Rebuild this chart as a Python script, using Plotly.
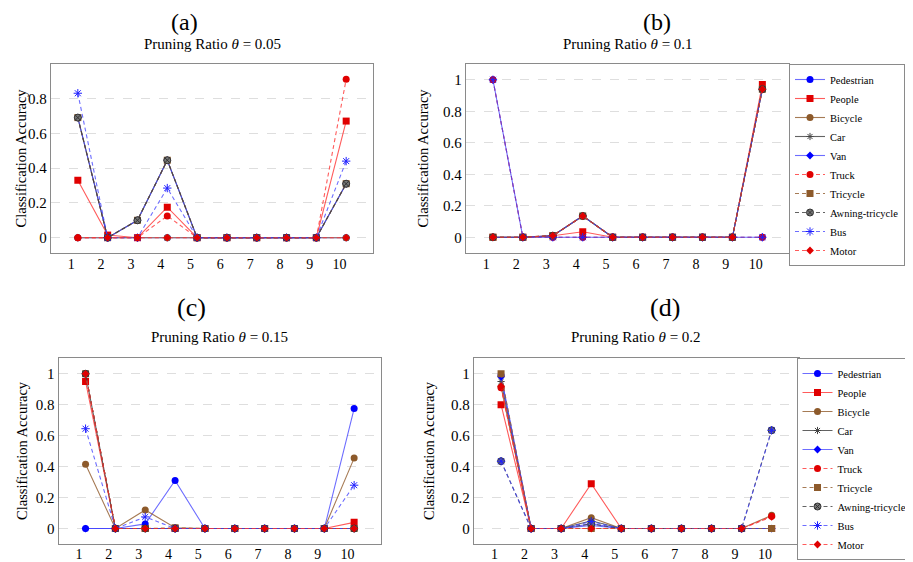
#Pruning ratio vs classification accuracy, 4 panels

import plotly.graph_objects as go
from plotly.subplots import make_subplots

#Data
runs = [1, 2, 3, 4, 5, 6, 7, 8, 9, 10]
tick_text = ["1", "2", "3", "4", "5", "6", "7", "8", "9", "10"]
classes = ["Pedestrian", "People", "Bicycle", "Car", "Van",
           "Truck", "Tricycle", "Awning-tricycle", "Bus", "Motor"]

# theta = 0.05 (rows follow classes)
acc_a = [
    [0, 0, 0, 0, 0, 0, 0, 0, 0, 0],
    [0.33, 0.015, 0, 0.175, 0, 0, 0, 0, 0, 0.67],
    [0, 0, 0, 0, 0, 0, 0, 0, 0, 0],
    [0.69, 0, 0.10, 0.445, 0, 0, 0, 0, 0, 0.31],
    [0.69, 0, 0.10, 0.445, 0, 0, 0, 0, 0, 0.31],
    [0, 0, 0, 0.125, 0, 0, 0, 0, 0, 0.91],
    [0.69, 0, 0.10, 0.445, 0, 0, 0, 0, 0, 0.31],
    [0.69, 0, 0.10, 0.445, 0, 0, 0, 0, 0, 0.31],
    [0.83, 0, 0, 0.285, 0, 0, 0, 0, 0, 0.44],
    [0, 0, 0, 0, 0, 0, 0, 0, 0, 0],
]

# theta = 0.1
acc_b = [
    [1.0, 0, 0, 0, 0, 0, 0, 0, 0, 0],
    [0, 0, 0.01, 0.035, 0, 0, 0, 0, 0, 0.97],
    [0, 0, 0.01, 0.135, 0, 0, 0, 0, 0, 0.94],
    [0, 0, 0.01, 0.135, 0, 0, 0, 0, 0, 0.94],
    [0, 0, 0.01, 0.135, 0, 0, 0, 0, 0, 0.94],
    [1.0, 0, 0, 0, 0, 0, 0, 0, 0, 0],
    [0, 0, 0.01, 0.135, 0, 0, 0, 0, 0, 0.94],
    [0, 0, 0.01, 0.135, 0, 0, 0, 0, 0, 0.94],
    [1.0, 0, 0, 0, 0, 0, 0, 0, 0, 0],
    [0, 0, 0.01, 0.135, 0, 0, 0, 0, 0, 0.94],
]

# theta = 0.15
acc_c = [
    [0, 0, 0.03, 0.31, 0, 0, 0, 0, 0, 0.775],
    [0.95, 0, 0, 0, 0, 0, 0, 0, 0, 0.04],
    [0.415, 0, 0.12, 0.005, 0, 0, 0, 0, 0, 0.455],
    [1.0, 0, 0, 0, 0, 0, 0, 0, 0, 0],
    [0, 0, 0, 0, 0, 0, 0, 0, 0, 0],
    [1.0, 0, 0, 0, 0, 0, 0, 0, 0, 0],
    [1.0, 0, 0, 0.005, 0, 0, 0, 0, 0, 0],
    [1.0, 0, 0, 0, 0, 0, 0, 0, 0, 0],
    [0.645, 0, 0.075, 0, 0, 0, 0, 0, 0, 0.28],
    [1.0, 0, 0, 0, 0, 0, 0, 0, 0, 0],
]

# theta = 0.2
acc_d = [
    [0.99, 0, 0, 0.02, 0, 0, 0, 0, 0, 0],
    [0.80, 0, 0, 0.29, 0, 0, 0, 0, 0, 0],
    [0.915, 0, 0, 0.07, 0, 0, 0, 0, 0, 0.085],
    [0.95, 0, 0, 0.05, 0, 0, 0, 0, 0, 0],
    [0.98, 0, 0, 0.03, 0, 0, 0, 0, 0, 0],
    [0.91, 0, 0, 0, 0, 0, 0, 0, 0, 0.08],
    [1.0, 0, 0, 0, 0, 0, 0, 0, 0, 0],
    [0.435, 0, 0, 0.03, 0, 0, 0, 0, 0, 0.635],
    [0.435, 0, 0, 0.045, 0, 0, 0, 0, 0, 0.635],
    [0.92, 0, 0, 0, 0, 0, 0, 0, 0, 0.075],
]

panel_titles = ["Pruning Ratio <i>θ</i> = 0.05", "Pruning Ratio <i>θ</i> = 0.1",
                "Pruning Ratio <i>θ</i> = 0.15", "Pruning Ratio <i>θ</i> = 0.2"]
panel_letters = ["(a)", "(b)", "(c)", "(d)"]

#Styles: marker color, line color, dash, symbol, size
BLUE_L = "rgba(60,60,255,0.75)"
RED_L = "rgba(255,50,50,0.8)"
BROWN_L = "rgba(150,100,55,0.85)"
GRAY_L = "rgba(60,60,60,0.8)"
styles = {
    "Pedestrian": ("#0000ff", BLUE_L, "solid", "circle", 7),
    "People": ("#e00000", RED_L, "solid", "square", 7),
    "Bicycle": ("#8d5a2b", BROWN_L, "solid", "circle", 7),
    "Car": ("#444444", GRAY_L, "solid", "asterisk-open", 6),
    "Van": ("#0000ff", BLUE_L, "solid", "diamond", 6),
    "Truck": ("#e00000", RED_L, "4px,3px", "circle", 7),
    "Tricycle": ("#8d5a2b", BROWN_L, "4px,3px", "square", 7),
    "Awning-tricycle": ("#777777", GRAY_L, "4px,3px", "circle-x", 7),
    "Bus": ("#2020ff", BLUE_L, "4px,3px", "asterisk-open", 7),
    "Motor": ("#e00000", RED_L, "4px,3px", "diamond", 6),
}

FONT = "Liberation Serif"

# page has an 8px body margin, so the figure is 905x554 and placed from (8, 8)
W, H, OFF = 905, 554, 8


def px(x):
    return (x - OFF) / W


def py(y):
    return 1 - (y - OFF) / H


fig = make_subplots(rows=2, cols=2)

panels = [(acc_a, 1, 1, None), (acc_b, 1, 2, "legend"),
          (acc_c, 2, 1, None), (acc_d, 2, 2, "legend2")]

for acc, r, c, leg in panels:
    for name, vals in zip(classes, acc):
        mcol, lcol, dash, sym, size = styles[name]
        fig.add_trace(
            go.Scatter(
                x=runs, y=vals, name=name, mode="lines+markers",
                line=dict(color=lcol, width=1.1, dash=dash),
                marker=dict(color=mcol, symbol=sym, size=size,
                            line=dict(color="#333333" if sym == "circle-x" else mcol,
                                      width=1 if "asterisk" in sym or sym == "circle-x" else 0)),
                showlegend=leg is not None,
                legend=leg if leg else "legend",
            ),
            row=r, col=c
        )

#Plot frames in reference pixels: left, right, top, bottom
frames = [(51, 373, 64, 253), (466, 789.3, 64, 253),
          (58.7, 381, 358.3, 544), (474, 798.7, 358.3, 544)]
y_ranges = [[-0.088, 0.998], [-0.1, 1.1], [-0.1, 1.1], [-0.1, 1.1]]
y_ticks = [[0, 0.2, 0.4, 0.6, 0.8], [0, 0.2, 0.4, 0.6, 0.8, 1],
           [0, 0.2, 0.4, 0.6, 0.8, 1], [0, 0.2, 0.4, 0.6, 0.8, 1]]

for i in range(4):
    sfx = "" if i == 0 else str(i + 1)
    l, r, t, b = frames[i]
    fig.layout["xaxis" + sfx].update(
        domain=[px(l), px(r)], range=[0.1, 10.9], automargin=False,
        tickvals=[v - 0.22 for v in runs], ticktext=tick_text,
        showgrid=False, zeroline=False, showline=True, mirror=True,
        linecolor="#8a8a8a", linewidth=1.3, ticks="",
        ticklabelstandoff=-2 if i < 2 else -3,
        tickfont=dict(family=FONT, size=14, color="black"),
    )
    fig.layout["yaxis" + sfx].update(
        domain=[py(b), py(t)], range=y_ranges[i], automargin=False,
        tickvals=y_ticks[i], ticktext=[("%g" % v) for v in y_ticks[i]],
        showgrid=True, gridcolor="#dedede", griddash="dash", gridwidth=1,
        zeroline=False, showline=True, mirror=True,
        linecolor="#8a8a8a", linewidth=1.3, ticks="",
        tickfont=dict(family=FONT, size=15, color="black"),
    )

#Titles and labels (reference pixel centres)
letter_pos = [(184, 22), (657, 22), (191.7, 307), (665, 307)]
letter_size = [24, 24, 26, 26]
title_pos = [(212, 43.5), (627.5, 43.5), (219.8, 336.7), (636.3, 336.7)]
ylab_pos = [(10, 158.5), (422, 158.5), (12, 451), (429, 451)]

annots = []
for i in range(4):
    annots.append(dict(text=panel_letters[i], x=px(letter_pos[i][0]), y=py(letter_pos[i][1]),
                       xref="paper", yref="paper", showarrow=False,
                       xanchor="center", yanchor="middle", borderpad=0,
                       font=dict(family=FONT, size=letter_size[i], color="black")))
    annots.append(dict(text=panel_titles[i], x=px(title_pos[i][0]), y=py(title_pos[i][1]),
                       xref="paper", yref="paper", showarrow=False,
                       xanchor="center", yanchor="middle",
                       font=dict(family=FONT, size=15, color="black")))
    yx = px(ylab_pos[i][0])
    annots.append(dict(text="Classification Accuracy", x=max(yx, 0), y=py(ylab_pos[i][1]),
                       xref="paper", yref="paper", showarrow=False, textangle=-90,
                       xanchor="left" if yx < 0.01 else "center", yanchor="middle",
                       font=dict(family=FONT, size=14.5, color="black")))

legend_style = dict(
    font=dict(family=FONT, size=10.5, color="black"),
    bgcolor="white", bordercolor="#8a8a8a", borderwidth=1,
    xanchor="right", yanchor="top",
)

fig.update_layout(
    template="none",
    width=W, height=H,
    margin=dict(l=0, r=0, t=0, b=0),
    plot_bgcolor="white", paper_bgcolor="white",
    annotations=annots,
    legend=dict(x=px(905), y=py(64), **legend_style),
    legend2=dict(x=px(912.5), y=py(358), **legend_style),
)

fig.write_html("out.html")
